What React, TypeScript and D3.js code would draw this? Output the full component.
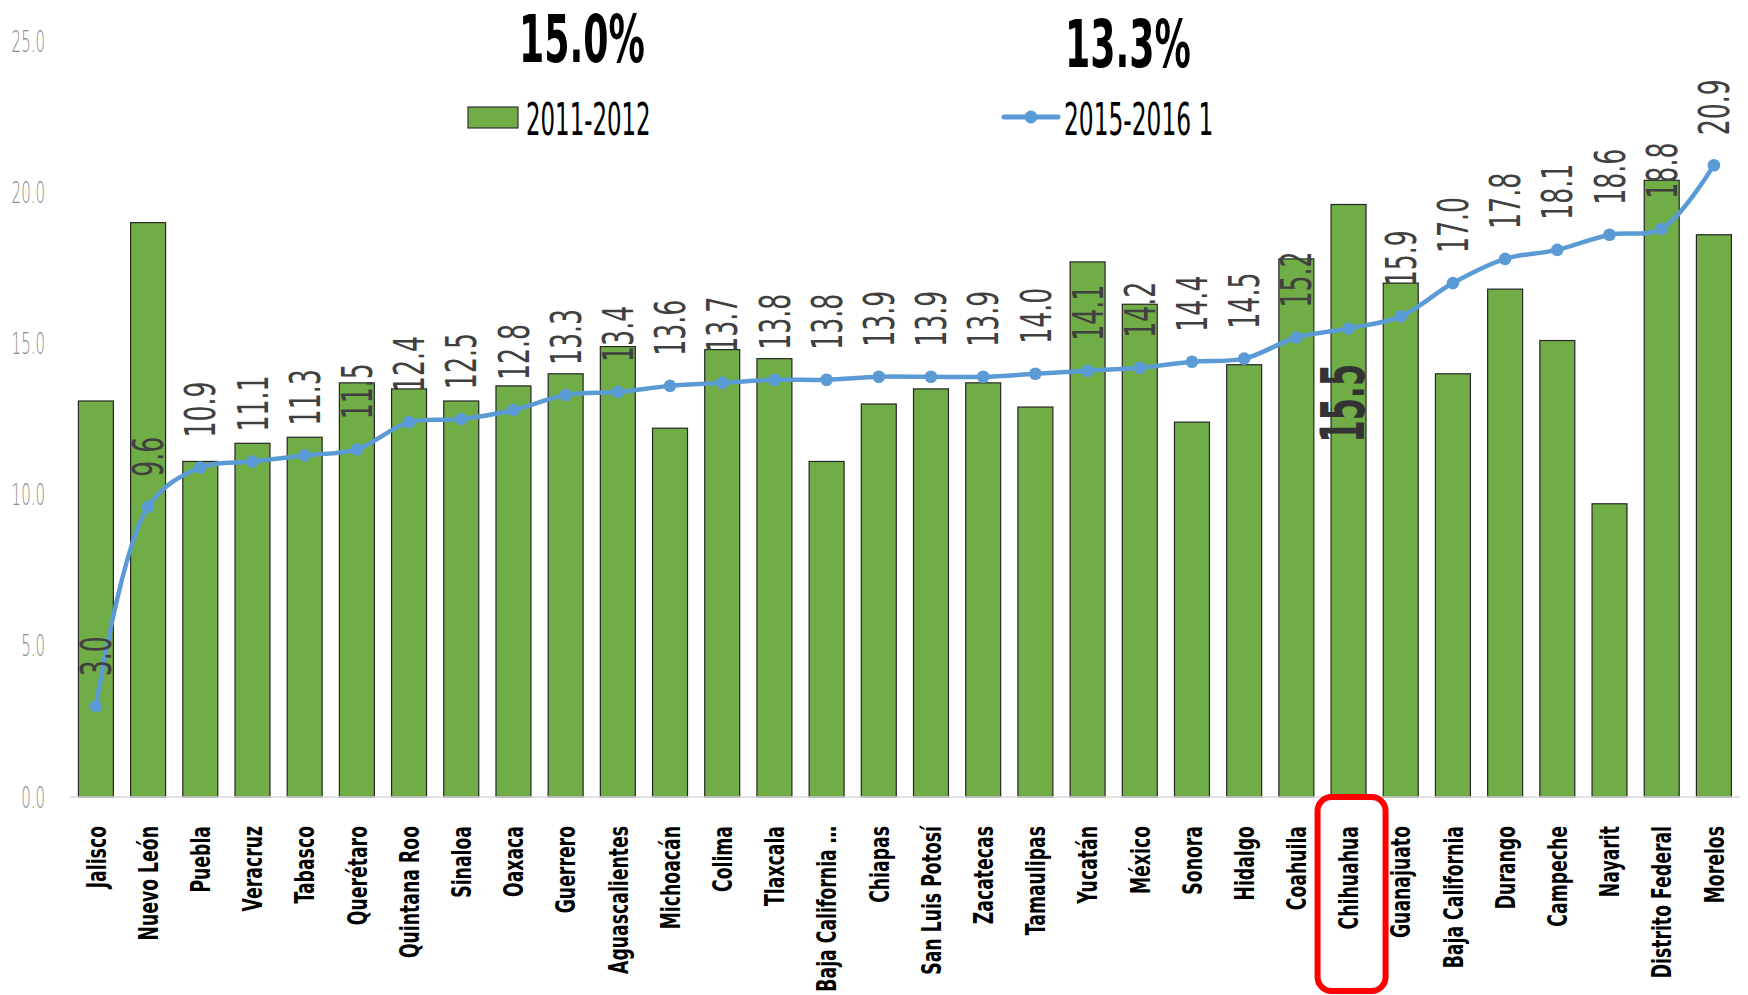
import React from 'react';
import * as d3 from 'd3';

const categories = ['Jalisco','Nuevo León','Puebla','Veracruz','Tabasco','Querétaro','Quintana Roo','Sinaloa','Oaxaca','Guerrero','Aguascalientes','Michoacán','Colima','Tlaxcala','Baja California …','Chiapas','San Luis Potosí','Zacatecas','Tamaulipas','Yucatán','México','Sonora','Hidalgo','Coahuila','Chihuahua','Guanajuato','Baja California','Durango','Campeche','Nayarit','Distrito Federal','Morelos'];
const bars2011 = [13.1,19.0,11.1,11.7,11.9,13.7,13.5,13.1,13.6,14.0,14.9,12.2,14.8,14.5,11.1,13.0,13.5,13.7,12.9,17.7,16.3,12.4,14.3,17.8,19.6,17.0,14.0,16.8,15.1,9.7,20.4,18.6];
const line2015 = [3.0,9.6,10.9,11.1,11.3,11.5,12.4,12.5,12.8,13.3,13.4,13.6,13.7,13.8,13.8,13.9,13.9,13.9,14.0,14.1,14.2,14.4,14.5,15.2,15.5,15.9,17.0,17.8,18.1,18.6,18.8,20.9];
const yTicks = [0,5,10,15,20,25];
const seriesNames = ['2011-2012','2015-2016 1'];
const headlines = ['15.0%','13.3%'];
const highlight = 'Chihuahua';

const W = 1748, H = 995;
const FONT = '"DejaVu Sans", "Liberation Sans", sans-serif';
const GREEN = '#70AD47';
const BLUE = '#5B9BD5';

export default function App() {
  const x = d3.scaleBand<string>().domain(categories).range([69.8, 1740]).paddingInner(0.33).paddingOuter(0.165);
  const y = d3.scaleLinear().domain([0, 25]).range([797, 41.25]);
  const bw = x.bandwidth();
  const cx = (c: string) => (x(c) as number) + bw / 2;
  const pts: [number, number][] = categories.map((c, i) => [cx(c), y(line2015[i])]);
  const lineGen = d3.line().curve(d3.curveCatmullRom.alpha(0.5));
  const hc = cx(highlight);

  return (
    <svg width={W} height={H} style={{ position: 'absolute', left: 0, top: 0, background: '#fff' }} fontFamily={FONT}>
      {/* y tick labels */}
      {yTicks.map(t => (
        <text key={t} transform={`translate(45,${y(t)}) scale(0.5,1)`} textAnchor="end" dy="0.35em" fontSize={30} fontWeight={300} fill="#8a8a8a">{t.toFixed(1)}</text>
      ))}
      {/* bars */}
      {categories.map((c, i) => (
        <rect key={c} x={x(c)} y={y(bars2011[i])} width={bw} height={y(0) - y(bars2011[i])} fill={GREEN} stroke="#262626" strokeWidth={1.2} />
      ))}
      {/* axis */}
      <line x1={69.8} x2={1740} y1={y(0)} y2={y(0)} stroke="#D9D9D9" strokeWidth={1.5} />
      {/* line series */}
      <path d={lineGen(pts) as string} fill="none" stroke={BLUE} strokeWidth={4.5} strokeLinejoin="round" />
      {pts.map((p, i) => <circle key={i} cx={p[0]} cy={p[1]} r={6.3} fill={BLUE} />)}
      {/* data labels */}
      {categories.map((c, i) => c === highlight ? (
        <text key={c} transform={`translate(${cx(c) - 6},${y(line2015[i]) + 114}) rotate(-90) scale(0.53,1)`} dy="0.36em" fontSize={60} fontWeight="bold" fill="#333">{line2015[i].toFixed(1)}</text>
      ) : (
        <text key={c} transform={`translate(${cx(c)},${y(line2015[i]) - 30}) rotate(-90) scale(0.6,1)`} dy="0.36em" fontSize={42} fill="#404040">{line2015[i].toFixed(1)}</text>
      ))}
      {/* category labels */}
      {categories.map(c => (
        <text key={c} transform={`translate(${cx(c)},826) rotate(-90) scale(0.64,1)`} textAnchor="end" dy="0.36em" fontSize={27} fontWeight="bold" fill="#000">{c}</text>
      ))}
      {/* highlight box */}
      <rect x={hc + 3 - 34} y={797} width={68} height={194} rx={14} fill="none" stroke="#FF0000" strokeWidth={6} />
      {/* headlines */}
      <text transform="translate(582,62) scale(0.55,1)" textAnchor="middle" fontSize={66} fontWeight="bold" fill="#000">{headlines[0]}</text>
      <text transform="translate(1128,67) scale(0.55,1)" textAnchor="middle" fontSize={66} fontWeight="bold" fill="#000">{headlines[1]}</text>
      {/* legend */}
      <rect x={468} y={107} width={50} height={21} fill={GREEN} stroke="#333" strokeWidth={1.2} />
      <text transform="translate(526,135) scale(0.52,1)" fontSize={44} fill="#000">{seriesNames[0]}</text>
      <line x1={1004} x2={1058} y1={117} y2={117} stroke={BLUE} strokeWidth={5} strokeLinecap="round" />
      <circle cx={1031} cy={117} r={6.5} fill={BLUE} />
      <text transform="translate(1064,135) scale(0.53,1)" fontSize={44} fill="#000">{seriesNames[1]}</text>
    </svg>
  );
}
